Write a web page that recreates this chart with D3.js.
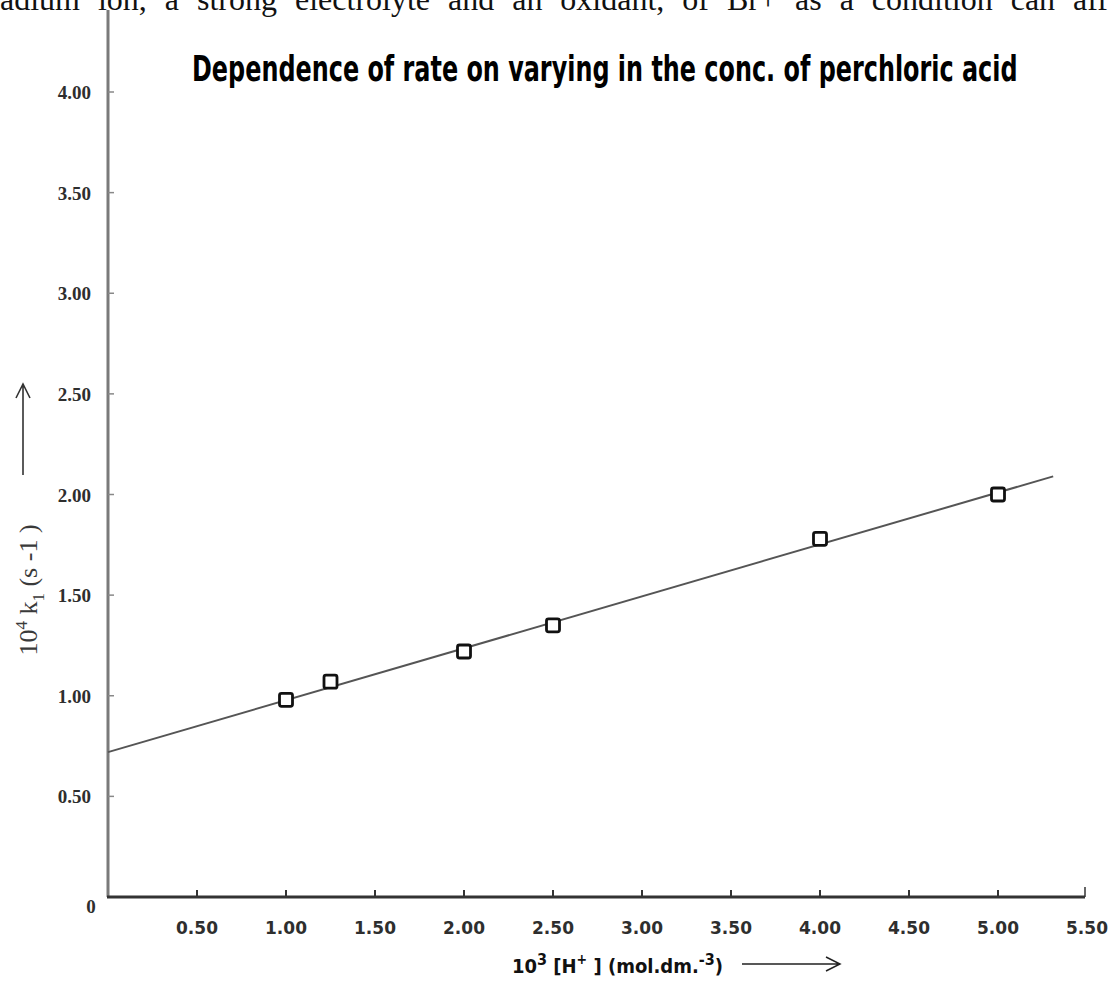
<!DOCTYPE html>
<html>
<head>
<meta charset="utf-8">
<script src="https://cdn.jsdelivr.net/npm/d3@7"></script>
<style>
  body { margin: 0; background: #fff; }
  svg { display: block; }
</style>
</head>
<body>
<div id="chart"></div>
<script>
    var xTicks = [0.5, 1.0, 1.5, 2.0, 2.5, 3.0, 3.5, 4.0, 4.5, 5.0, 5.5];
    var yTicks = [0.5, 1.0, 1.5, 2.0, 2.5, 3.0, 3.5, 4.0];
    var hConc = [1.00, 1.25, 2.00, 2.50, 4.00, 5.00];
    var rateK = [0.98, 1.07, 1.22, 1.35, 1.78, 2.00];
    var fitX = [0, 5.31];
    var fitY = [0.72, 2.09];
    var titleText = "Dependence of rate on varying in the conc. of perchloric acid";
    var topText = "adium ion, a strong electrolyte and an oxidant, of Br+ as a condition can aff";

    var width = 1111, height = 990;
    var svg = d3.select("#chart").append("svg")
        .attr("width", width)
        .attr("height", height);

    var x = d3.scaleLinear().domain([0, 5.5]).range([108, 1087]);
    var y = d3.scaleLinear().domain([0, 4.0]).range([897, 92]);

    // clipped paragraph text at the very top (justified line)
    var topLine = svg.append("text")
        .attr("x", 0)
        .attr("y", 10)
        .attr("font-family", "'Liberation Serif', 'DejaVu Serif', serif")
        .style("font-size", "32px")
        .attr("fill", "#111")
        .text(topText);
    var natural = topLine.node().getComputedTextLength();
    var gaps = topText.split(" ").length - 1;
    topLine.style("word-spacing", Math.max(0, (1108 - natural) / gaps) + "px");

    // y axis
    svg.append("line")
        .attr("x1", x(0)).attr("x2", x(0))
        .attr("y1", 10).attr("y2", y(0))
        .attr("stroke", "#7a7a7a")
        .attr("stroke-width", 3);

    svg.append("g")
        .selectAll(".ytick")
        .data(yTicks)
        .enter().append("line")
        .attr("class", "ytick")
        .attr("x1", x(0)).attr("x2", x(0) + 6)
        .attr("y1", function (d) { return y(d); })
        .attr("y2", function (d) { return y(d); })
        .attr("stroke", "#888")
        .attr("stroke-width", 1.5);

    svg.append("g")
        .selectAll(".ylabel")
        .data(yTicks)
        .enter().append("text")
        .attr("class", "ylabel")
        .attr("x", 91)
        .attr("y", function (d) { return y(d) + 7; })
        .attr("text-anchor", "end")
        .attr("font-family", "'Liberation Serif', 'DejaVu Serif', serif")
        .attr("font-weight", "bold")
        .style("font-size", "19px")
        .attr("fill", "#2e2e2e")
        .text(function (d) { return d.toFixed(2); });

    svg.append("text")
        .attr("x", 91)
        .attr("y", 913)
        .attr("text-anchor", "middle")
        .attr("font-family", "'Liberation Serif', 'DejaVu Serif', serif")
        .attr("font-weight", "bold")
        .style("font-size", "19px")
        .attr("fill", "#2e2e2e")
        .text("0");

    // x axis
    svg.append("line")
        .attr("x1", x(0) - 1).attr("x2", x(5.5) - 2)
        .attr("y1", y(0)).attr("y2", y(0))
        .attr("stroke", "#333")
        .attr("stroke-width", 3);

    svg.append("line")
        .attr("x1", x(5.5) - 2).attr("x2", x(5.5) - 2)
        .attr("y1", y(0)).attr("y2", y(0) - 10)
        .attr("stroke", "#333")
        .attr("stroke-width", 1.5);

    svg.append("g")
        .selectAll(".xtick")
        .data(xTicks.slice(0, -1))
        .enter().append("line")
        .attr("class", "xtick")
        .attr("x1", function (d) { return x(d); })
        .attr("x2", function (d) { return x(d); })
        .attr("y1", y(0)).attr("y2", y(0) - 7)
        .attr("stroke", "#333")
        .attr("stroke-width", 2);

    svg.append("g")
        .selectAll(".xlabel")
        .data(xTicks)
        .enter().append("text")
        .attr("class", "xlabel")
        .attr("x", function (d) { return x(d); })
        .attr("y", 934)
        .attr("text-anchor", "middle")
        .attr("font-family", "'DejaVu Sans', Verdana, sans-serif")
        .attr("font-weight", "bold")
        .style("font-size", "17px")
        .attr("fill", "#2e2e2e")
        .text(function (d) { return d.toFixed(2); });

    // fitted line
    svg.append("line")
        .attr("x1", x(fitX[0])).attr("y1", y(fitY[0]))
        .attr("x2", x(fitX[1])).attr("y2", y(fitY[1]))
        .attr("stroke", "#555")
        .attr("stroke-width", 2);

    // data squares
    var pts = hConc.map(function (d, i) { return { x: d, y: rateK[i] }; });
    svg.append("g")
        .selectAll(".pt")
        .data(pts)
        .enter().append("rect")
        .attr("class", "pt")
        .attr("x", function (d) { return x(d.x) - 6.5; })
        .attr("y", function (d) { return y(d.y) - 6.5; })
        .attr("width", 13).attr("height", 13)
        .attr("rx", 2)
        .attr("fill", "#fff")
        .attr("stroke", "#111")
        .attr("stroke-width", 2.8);

    // title, squeezed horizontally to the reference width
    var title = svg.append("text")
        .attr("x", 0)
        .attr("y", 0)
        .attr("font-family", "'DejaVu Sans Condensed', 'Liberation Sans Narrow', sans-serif")
        .attr("font-weight", "bold")
        .style("font-size", "36px")
        .attr("fill", "#000")
        .text(titleText);
    var titleLen = title.node().getComputedTextLength();
    title.attr("transform", "translate(192,81) scale(" + (826 / titleLen) + ",1)");

    // y axis title (rotated)
    var yt = svg.append("text")
        .attr("transform", "translate(37,590) rotate(-90)")
        .attr("text-anchor", "middle")
        .attr("font-family", "'Liberation Serif', 'DejaVu Serif', serif")
        .style("font-size", "26px")
        .attr("fill", "#3a3a3a");
    yt.append("tspan").text("10");
    yt.append("tspan").attr("dy", -10).style("font-size", "17px").text("4");
    yt.append("tspan").attr("dy", 10).text(" k");
    yt.append("tspan").attr("dy", 7).style("font-size", "17px").text("1");
    yt.append("tspan").attr("dy", -7).text(" (s -1 )");

    // y arrow
    var arrow = d3.path();
    arrow.moveTo(23, 475); arrow.lineTo(23, 384);
    arrow.moveTo(16, 398); arrow.lineTo(23, 384); arrow.lineTo(30, 398);
    svg.append("path")
        .attr("d", arrow.toString())
        .attr("fill", "none")
        .attr("stroke", "#333")
        .attr("stroke-width", 1.6);

    // x axis title
    var xt = svg.append("text")
        .attr("x", 512)
        .attr("y", 973)
        .attr("font-family", "'DejaVu Sans Condensed', 'Liberation Sans Narrow', sans-serif")
        .attr("font-weight", "bold")
        .style("font-size", "20px")
        .attr("fill", "#111");
    xt.append("tspan").text("10");
    xt.append("tspan").attr("dy", -8).style("font-size", "16px").text("3");
    xt.append("tspan").attr("dy", 8).text(" [H");
    xt.append("tspan").attr("dy", -9).style("font-size", "14px").text("+");
    xt.append("tspan").attr("dy", 9).text(" ] (mol.dm.");
    xt.append("tspan").attr("dy", -8).style("font-size", "16px").text("-3");
    xt.append("tspan").attr("dy", 8).text(")");

    var xarrow = d3.path();
    xarrow.moveTo(742, 964); xarrow.lineTo(840, 964);
    xarrow.moveTo(826, 957); xarrow.lineTo(840, 964); xarrow.lineTo(826, 971);
    svg.append("path")
        .attr("d", xarrow.toString())
        .attr("fill", "none")
        .attr("stroke", "#222")
        .attr("stroke-width", 1.5);
</script>
</body>
</html>
